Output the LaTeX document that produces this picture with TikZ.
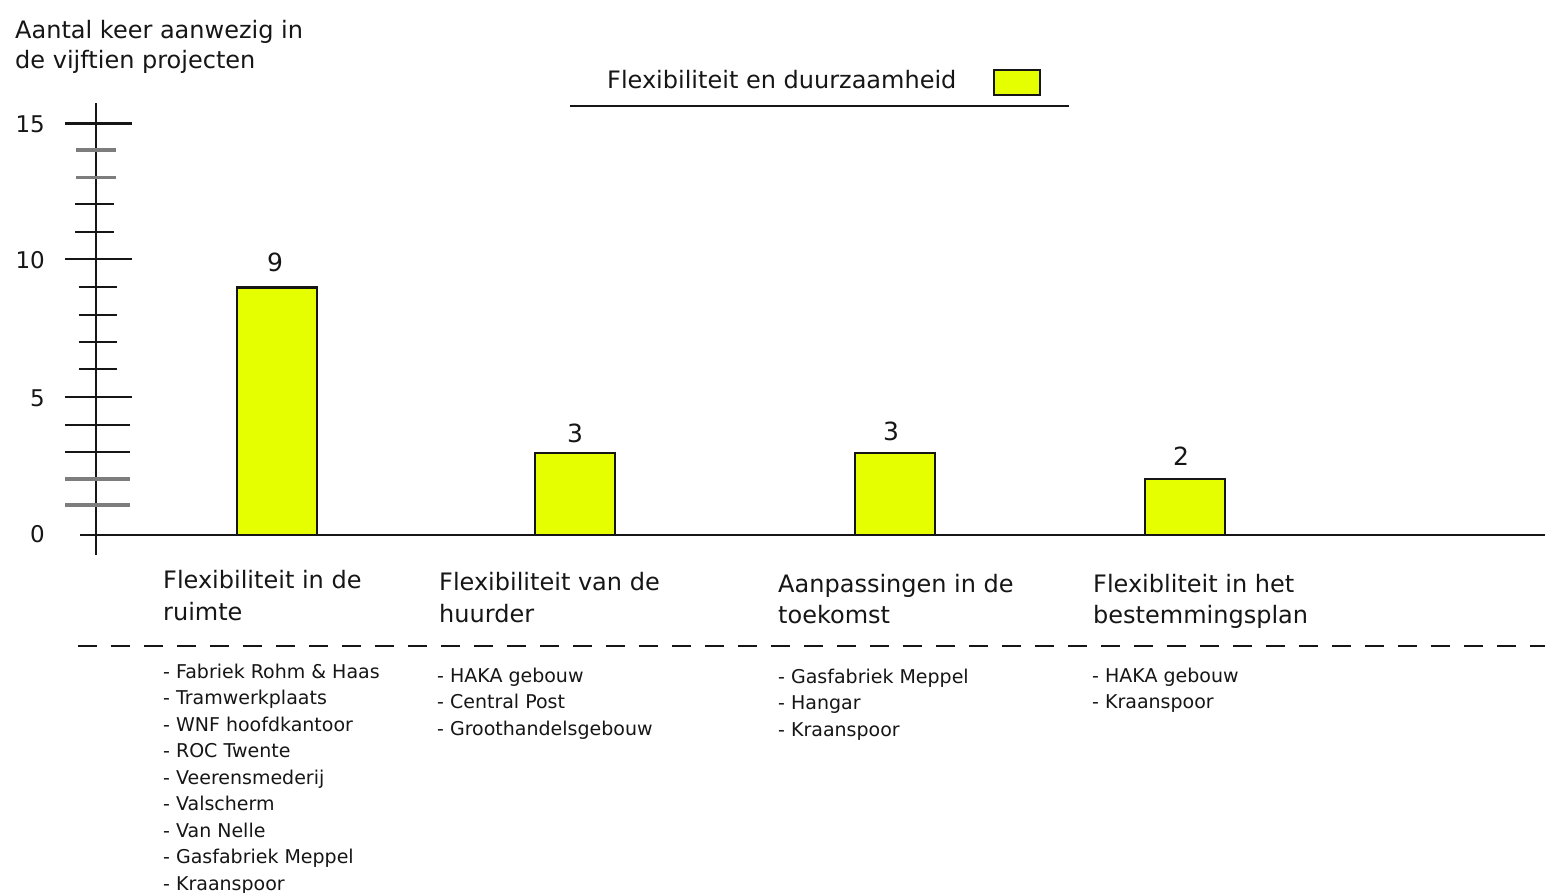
\documentclass[tikz,border=0pt]{standalone}
\usepackage{fontspec}
\setmainfont{DejaVu Sans}
\definecolor{barfill}{RGB}{230,255,0}
\definecolor{txt}{RGB}{22,22,22}
\definecolor{tickgray}{RGB}{125,125,125}
\begin{document}
\begin{tikzpicture}[x=1pt,y=-1pt,
  lbl/.style={inner sep=0pt, anchor=base west, text=txt, font=\fontsize{24}{30}\selectfont},
  small/.style={inner sep=0pt, anchor=base west, text=txt, font=\fontsize{19}{26}\selectfont},
  num/.style={inner sep=0pt, anchor=base east, text=txt, font=\fontsize{23}{28}\selectfont},
  val/.style={inner sep=0pt, anchor=base, text=txt, font=\fontsize{25}{30}\selectfont},
  axisline/.style={draw=txt, line width=2.4pt},
  majtick/.style={draw=txt, line width=2.4pt},
  graytick/.style={draw=tickgray, line width=3.5pt},
  barrect/.style={draw=txt, line width=2.2pt, fill=barfill},
  legbox/.style={draw=txt, line width=2.2pt, fill=barfill, inner sep=0pt, minimum width=46pt, minimum height=25pt}]
\useasboundingbox[fill=white] (0,0) rectangle (1545,892);

% y-axis title
\node[lbl] (yl1) at (15,38) {Aantal keer aanwezig in};
\node[lbl] (yl2) at (15,68) {de vijftien projecten};

% legend
\node[lbl] (legtxt) at (607,88) {Flexibiliteit en duurzaamheid};
\node[legbox] (legsq) at (1017,82.5) {};
\draw[line width=2.4pt, draw=txt] (570,106) -- (1069,106);

% axes
\draw[axisline] (96,103) -- (96,555);
\draw[axisline] (80,535) -- (1545,535);

% ticks
\foreach \y in {123.3,259,397} \draw[majtick] (65,\y) -- (132,\y);
\foreach \y in {425,452} \draw[majtick] (65,\y) -- (130,\y);
\foreach \y in {479,505} \draw[graytick] (65,\y) -- (130,\y);
\foreach \y in {150,177.7} \draw[graytick] (76,\y) -- (116,\y);
\foreach \y in {204,232} \draw[majtick] (75,\y) -- (114,\y);
\foreach \y in {287,315,342,369} \draw[majtick] (79,\y) -- (117,\y);

% axis numbers
\node[num] (n15) at (45,132) {15};
\node[num] (n10) at (45,268) {10};
\node[num] (n5) at (45,406) {5};
\node[num] (n0) at (45,542) {0};

% bars
\draw[barrect] (237,535) rectangle (317,287.5);
\draw[barrect] (535,535) rectangle (615,453);
\draw[barrect] (855,535) rectangle (935,453);
\draw[barrect] (1145,535) rectangle (1225,479);

\node[val] (v1) at (275,271) {9};
\node[val] (v2) at (575,442) {3};
\node[val] (v3) at (891,440) {3};
\node[val] (v4) at (1181,465) {2};

% category labels
\node[lbl] (c1a) at (163,588) {Flexibiliteit in de};
\node[lbl] (c1b) at (163,620) {ruimte};
\node[lbl] (c2a) at (439,590) {Flexibiliteit van de};
\node[lbl] (c2b) at (439,622) {huurder};
\node[lbl] (c3a) at (778,592) {Aanpassingen in de};
\node[lbl] (c3b) at (778,623) {toekomst};
\node[lbl] (c4a) at (1093,592) {Flexibliteit in het};
\node[lbl] (c4b) at (1093,623) {bestemmingsplan};

% dashed separator
\draw[draw=txt, line width=2.6pt, dash pattern=on 19pt off 14pt] (78,646) -- (1545,646);

% project lists
\foreach \t [count=\i] in {Fabriek Rohm \& Haas, Tramwerkplaats, WNF hoofdkantoor, ROC Twente, Veerensmederij, Valscherm, Van Nelle, Gasfabriek Meppel, Kraanspoor}
  \node[small] (la\i) at (163,{678+(\i-1)*26.5}) {- \t};
\foreach \t [count=\i] in {HAKA gebouw, Central Post, Groothandelsgebouw}
  \node[small] (lb\i) at (437,{682+(\i-1)*26.5}) {- \t};
\foreach \t [count=\i] in {Gasfabriek Meppel, Hangar, Kraanspoor}
  \node[small] (lc\i) at (778,{683+(\i-1)*26.5}) {- \t};
\foreach \t [count=\i] in {HAKA gebouw, Kraanspoor}
  \node[small] (ld\i) at (1092,{682+(\i-1)*26.5}) {- \t};
\end{tikzpicture}
\end{document}
